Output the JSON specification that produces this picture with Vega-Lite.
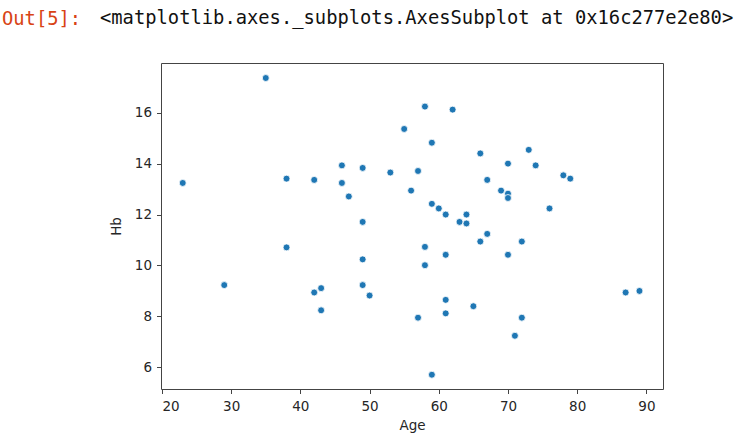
{
  "$schema": "https://vega.github.io/schema/vega-lite/v6.json",
  "width": 502,
  "height": 326,
  "autosize": {"type": "none"},
  "padding": {"left": 161, "top": 63, "right": 89, "bottom": 59},
  "background": "white",
  "title": {
    "text": "Out[5]:",
    "subtitle": "\u2800\u2800\u2800\u2800\u2800\u2800\u2800<matplotlib.axes._subplots.AxesSubplot at 0x16c277e2e80>",
    "anchor": "start",
    "frame": "group",
    "dx": -159,
    "offset": 33,
    "font": "DejaVu Sans Mono",
    "fontSize": 18.8,
    "fontWeight": "normal",
    "color": "#d84315",
    "subtitleFont": "DejaVu Sans Mono",
    "subtitleFontSize": 18.8,
    "subtitleColor": "#111111",
    "subtitlePadding": -20
  },
  "config": {
    "view": {"stroke": "#444444", "strokeWidth": 1},
    "axis": {
      "grid": false,
      "domain": false,
      "tickColor": "#444444",
      "tickSize": 4.5,
      "labelFont": "DejaVu Sans",
      "labelFontSize": 13.5,
      "labelColor": "#262626",
      "titleFont": "DejaVu Sans",
      "titleFontSize": 13.5,
      "titleFontWeight": "normal",
      "titleColor": "#262626"
    }
  },
  "data": {
    "values": [
      {"Age": 23, "Hb": 13.24},
      {"Age": 35, "Hb": 17.36},
      {"Age": 38, "Hb": 13.41},
      {"Age": 42, "Hb": 13.36},
      {"Age": 46, "Hb": 13.93},
      {"Age": 46, "Hb": 13.24},
      {"Age": 47, "Hb": 12.71},
      {"Age": 49, "Hb": 13.83},
      {"Age": 49, "Hb": 11.71},
      {"Age": 53, "Hb": 13.65},
      {"Age": 55, "Hb": 15.36},
      {"Age": 56, "Hb": 12.94},
      {"Age": 58, "Hb": 16.24},
      {"Age": 62, "Hb": 16.12},
      {"Age": 59, "Hb": 14.82},
      {"Age": 66, "Hb": 14.4},
      {"Age": 73, "Hb": 14.54},
      {"Age": 70, "Hb": 14.0},
      {"Age": 74, "Hb": 13.93},
      {"Age": 57, "Hb": 13.71},
      {"Age": 78, "Hb": 13.54},
      {"Age": 79, "Hb": 13.41},
      {"Age": 67, "Hb": 13.36},
      {"Age": 69, "Hb": 12.94},
      {"Age": 70, "Hb": 12.82},
      {"Age": 70, "Hb": 12.65},
      {"Age": 76, "Hb": 12.24},
      {"Age": 59, "Hb": 12.42},
      {"Age": 60, "Hb": 12.24},
      {"Age": 61, "Hb": 12.0},
      {"Age": 64, "Hb": 12.0},
      {"Age": 63, "Hb": 11.71},
      {"Age": 64, "Hb": 11.65},
      {"Age": 67, "Hb": 11.24},
      {"Age": 66, "Hb": 10.94},
      {"Age": 72, "Hb": 10.94},
      {"Age": 58, "Hb": 10.73},
      {"Age": 61, "Hb": 10.42},
      {"Age": 70, "Hb": 10.42},
      {"Age": 58, "Hb": 10.01},
      {"Age": 87, "Hb": 8.94},
      {"Age": 89, "Hb": 9.0},
      {"Age": 61, "Hb": 8.65},
      {"Age": 65, "Hb": 8.4},
      {"Age": 61, "Hb": 8.12},
      {"Age": 57, "Hb": 7.95},
      {"Age": 72, "Hb": 7.95},
      {"Age": 71, "Hb": 7.24},
      {"Age": 59, "Hb": 5.71},
      {"Age": 38, "Hb": 10.71},
      {"Age": 49, "Hb": 10.24},
      {"Age": 29, "Hb": 9.23},
      {"Age": 42, "Hb": 8.94},
      {"Age": 43, "Hb": 9.11},
      {"Age": 49, "Hb": 9.23},
      {"Age": 50, "Hb": 8.82},
      {"Age": 43, "Hb": 8.24}
    ]
  },
  "mark": {"type": "point", "filled": true, "shape": "circle", "size": 48, "fill": "#1f77b4", "fillOpacity": 1, "stroke": "white", "strokeWidth": 0.8, "opacity": 1},
  "encoding": {
    "x": {
      "field": "Age",
      "type": "quantitative",
      "scale": {"domain": [19.86, 92.4], "nice": false, "zero": false},
      "axis": {"values": [20, 30, 40, 50, 60, 70, 80, 90], "labelPadding": 5.5, "titlePadding": 6, "title": "Age"}
    },
    "y": {
      "field": "Hb",
      "type": "quantitative",
      "scale": {"domain": [5.15, 17.95], "nice": false, "zero": false},
      "axis": {"values": [6, 8, 10, 12, 14, 16], "labelPadding": 5, "titlePadding": 11, "title": "Hb"}
    }
  }
}
